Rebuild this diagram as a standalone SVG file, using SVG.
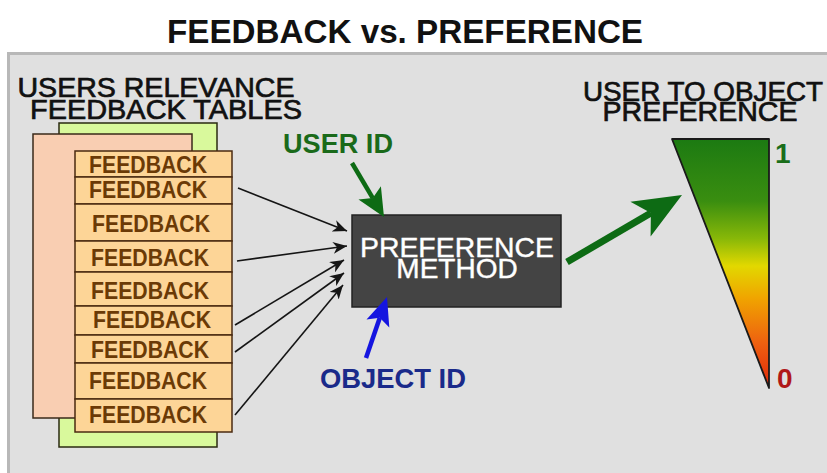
<svg xmlns="http://www.w3.org/2000/svg" width="827" height="473" viewBox="0 0 827 473">
  <style>
    .sans { font-family: "Liberation Sans", Arial, sans-serif; }
    .head { font-size: 28px; fill: #111; stroke: #111; stroke-width: 0.7px; }
    .row { fill: #fdd597; stroke: #4a2a10; stroke-width: 1.5; }
    .rowtxt { font-size: 23px; font-weight: bold; fill: #6b3a06; text-anchor: middle; }
    .wire { fill: none; stroke: #151515; stroke-width: 1.6; }
  </style>
  <defs>
    <marker id="tip" markerUnits="userSpaceOnUse" markerWidth="16" markerHeight="12" refX="14" refY="6" orient="auto">
      <path d="M0,0 L14,6 L0,12 L4,6 Z" fill="#151515"/>
    </marker>
    <linearGradient id="scale" x1="0" y1="0" x2="0" y2="1">
      <stop offset="0" stop-color="#1c7a12"/>
      <stop offset="0.25" stop-color="#3a8e10"/>
      <stop offset="0.40" stop-color="#88b808"/>
      <stop offset="0.51" stop-color="#e2d800"/>
      <stop offset="0.64" stop-color="#f0a400"/>
      <stop offset="0.82" stop-color="#ee6010"/>
      <stop offset="1" stop-color="#e0280a"/>
    </linearGradient>
  </defs>

  <!-- background and grey panel -->
  <rect x="0" y="0" width="827" height="473" fill="#ffffff"/>
  <rect x="8.5" y="53.5" width="830" height="430" fill="#e0e0e0" stroke="#b8b8b8" stroke-width="3"/>

  <text class="sans" x="405" y="43" font-size="34" font-weight="bold" fill="#111" text-anchor="middle" textLength="476" lengthAdjust="spacingAndGlyphs">FEEDBACK vs. PREFERENCE</text>

  <!-- feedback table stack -->
  <g id="tables">
    <text class="sans head" x="156" y="97" text-anchor="middle" textLength="277" lengthAdjust="spacingAndGlyphs">USERS RELEVANCE</text>
    <text class="sans head" x="166" y="119" text-anchor="middle" textLength="272" lengthAdjust="spacingAndGlyphs">FEEDBACK TABLES</text>
    <rect x="59" y="123" width="158" height="324" fill="#d9f99c" stroke="#2a2a10" stroke-width="1.5"/>
    <rect x="33" y="134" width="159" height="284" fill="#f9ceb2" stroke="#3a2a1a" stroke-width="1.5"/>
    <rect class="row" x="75" y="151" width="157" height="26"/>
    <rect class="row" x="75" y="177" width="157" height="27"/>
    <rect class="row" x="75" y="204" width="157" height="37"/>
    <rect class="row" x="75" y="241" width="157" height="31"/>
    <rect class="row" x="75" y="272" width="157" height="34"/>
    <rect class="row" x="75" y="306" width="157" height="29"/>
    <rect class="row" x="75" y="335" width="157" height="28"/>
    <rect class="row" x="75" y="363" width="157" height="36"/>
    <rect class="row" x="75" y="399" width="157" height="33"/>
    <text class="sans rowtxt" x="148" y="173" textLength="118" lengthAdjust="spacingAndGlyphs">FEEDBACK</text>
    <text class="sans rowtxt" x="148" y="198" textLength="118" lengthAdjust="spacingAndGlyphs">FEEDBACK</text>
    <text class="sans rowtxt" x="151" y="232" textLength="118" lengthAdjust="spacingAndGlyphs">FEEDBACK</text>
    <text class="sans rowtxt" x="150" y="266" textLength="118" lengthAdjust="spacingAndGlyphs">FEEDBACK</text>
    <text class="sans rowtxt" x="150" y="299" textLength="118" lengthAdjust="spacingAndGlyphs">FEEDBACK</text>
    <text class="sans rowtxt" x="152" y="328" textLength="118" lengthAdjust="spacingAndGlyphs">FEEDBACK</text>
    <text class="sans rowtxt" x="150" y="358" textLength="118" lengthAdjust="spacingAndGlyphs">FEEDBACK</text>
    <text class="sans rowtxt" x="148" y="389" textLength="118" lengthAdjust="spacingAndGlyphs">FEEDBACK</text>
    <text class="sans rowtxt" x="148" y="423" textLength="118" lengthAdjust="spacingAndGlyphs">FEEDBACK</text>
  </g>

  <!-- preference method box -->
  <g id="method">
    <rect x="352" y="215" width="209" height="92" fill="#444444" stroke="#222222" stroke-width="1.5"/>
    <text class="sans" x="457" y="257" font-size="28" fill="#ffffff" stroke="#ffffff" stroke-width="0.4" text-anchor="middle" textLength="194" lengthAdjust="spacingAndGlyphs">PREFERENCE</text>
    <text class="sans" x="457" y="278" font-size="28" fill="#ffffff" stroke="#ffffff" stroke-width="0.4" text-anchor="middle">METHOD</text>
  </g>

  <g id="user-id">
    <text class="sans" x="283" y="153" font-size="27" font-weight="bold" fill="#1a6a1a" textLength="110" lengthAdjust="spacingAndGlyphs">USER ID</text>
  </g>

  <g id="object-id">
    <text class="sans" x="320" y="388" font-size="27" font-weight="bold" fill="#1a2a8a" textLength="146" lengthAdjust="spacingAndGlyphs">OBJECT ID</text>
  </g>

  <!-- preference scale -->
  <g id="scale-bar">
    <text class="sans head" x="703" y="101" text-anchor="middle" textLength="240" lengthAdjust="spacingAndGlyphs">USER TO OBJECT</text>
    <text class="sans head" x="700" y="121" text-anchor="middle" textLength="195" lengthAdjust="spacingAndGlyphs">PREFERENCE</text>
    <polygon points="672,139 769,139 769,388" fill="url(#scale)" stroke="#1a1a1a" stroke-width="1.8" stroke-linejoin="round"/>
    <text class="sans" x="775" y="163" font-size="28" font-weight="bold" fill="#1a6e1a">1</text>
    <text class="sans" x="777" y="388" font-size="28" font-weight="bold" fill="#b01818">0</text>
  </g>

  <!-- connectors -->
  <g id="connectors">
    <path class="wire" d="M238,188 L347,231" marker-end="url(#tip)"/>
    <path class="wire" d="M237,261 L347,246" marker-end="url(#tip)"/>
    <path class="wire" d="M235,325 L344,260" marker-end="url(#tip)"/>
    <path class="wire" d="M235,352 L344,273" marker-end="url(#tip)"/>
    <path class="wire" d="M235,415 L343,285" marker-end="url(#tip)"/>

    <line x1="352" y1="163" x2="372.8" y2="198.1" stroke="#0d6b14" stroke-width="4.5"/>
    <polygon points="384,217 358.5,199.5 372.8,198.1 380.9,186.3" fill="#0d6b14"/>

    <line x1="366" y1="358" x2="379.8" y2="317.8" stroke="#1515e0" stroke-width="4.5"/>
    <polygon points="387,297 389.3,327.4 379.8,317.8 366.5,319.6" fill="#1515e0"/>

    <line x1="567" y1="262" x2="650.9" y2="213.1" stroke="#0d6b14" stroke-width="7"/>
    <polygon points="682,195 650.6,236.4 650.9,213.1 630.4,201.8" fill="#0d6b14"/>
  </g>
</svg>
